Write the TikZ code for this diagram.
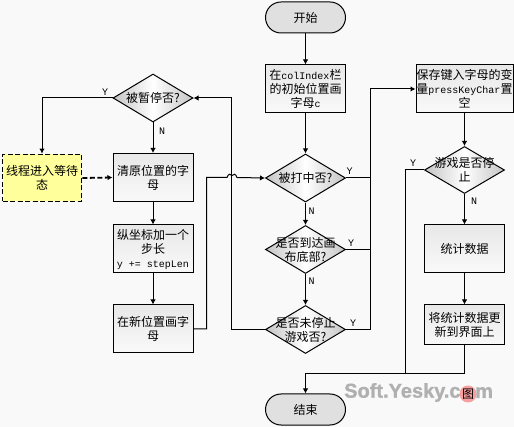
\documentclass[tikz,border=0pt]{standalone}
\usepackage{fontspec}
\setmainfont{Liberation Mono}
\newfontfamily\cjk{Noto Sans CJK SC}
\newfontfamily\wmfont[FakeBold=1.2]{Liberation Sans Bold}
\usetikzlibrary{shapes.geometric,arrows.meta}
\newcommand{\cn}[1]{{\cjk\fontsize{12}{14}\selectfont #1}}
\tikzset{
  conn/.style={draw=black,line width=1pt},
  arr/.style={conn,-{Latex[length=5pt,width=5.5pt]}},
  boxbase/.style={rectangle,draw=black,line width=1pt,minimum width=80pt,inner sep=0pt,align=center,font=\fontsize{10}{14}\selectfont},
  proc/.style={boxbase,top color=e5gray,bottom color=bggray},
  waitbox/.style={boxbase,draw=black,line width=1.8pt,dash pattern=on 5pt off 2.5pt,fill=waity,minimum width=79pt,minimum height=47pt},
  term/.style={rectangle,rounded corners=15.5pt,draw=black,line width=1pt,fill=termg,minimum width=80pt,minimum height=31pt,inner sep=0pt},
  dec/.style={diamond,draw=black,line width=1pt,aspect=1.67,inner sep=0pt,minimum width=80pt,minimum height=48pt,left color=decg,right color=decg,middle color=white},
  dectext/.style={align=center,inner sep=0pt,font=\fontsize{10}{14}\selectfont},
  yn/.style={inner sep=0pt,font=\fontsize{10}{12}\selectfont},
  wm/.style={inner sep=0pt,text=wmg,font=\wmfont\fontsize{20}{20}\selectfont}
}
\definecolor{e5gray}{HTML}{E8E8E8}
\definecolor{bggray}{HTML}{F9F9F9}
\definecolor{waity}{HTML}{FFFF9C}
\definecolor{termg}{HTML}{E0E0E0}
\definecolor{decg}{HTML}{C4C4C4}
\definecolor{wmg}{HTML}{B0B0B0}
\definecolor{wmred}{HTML}{F8A0A0}
\begin{document}
\begin{tikzpicture}[x=1pt,y=-1pt]
\useasboundingbox (0,0) rectangle (514,427);
\fill[bggray] (0,0) rectangle (514,427);
% left column
\node[dec] (pause) at (153,98) {};
\node[dectext] (pauset) at (pause.center) {\cn{被暂停否?}};
\node[waitbox] (wait) at (42,178) {\cn{线程进入等待}\\\cn{态}};
\node[proc,minimum height=48pt] (clear) at (153,177.5) {\cn{清原位置的字}\\\cn{母}};
\node[proc,minimum height=48pt] (incr) at (153,249) {\cn{纵坐标加一个}\\\cn{步长}\\y += stepLen};
\node[proc,minimum height=48pt] (newpos) at (153,329) {\cn{在新位置画字}\\\cn{母}};
% centre column
\node[term] (start) at (305.5,17.5) {\cn{开始}};
\node[proc,minimum height=48pt] (init) at (305.5,89) {\cn{在}colIndex\cn{栏}\\\cn{的初始位置画}\\\cn{字母}c};
\node[dec] (hit) at (305.5,178) {};
\node[dectext] (hitt) at (hit.center) {\cn{被打中否?}};
\node[dec] (bottom) at (305.5,249.5) {};
\node[dectext] (bottomt) at (bottom.center) {\cn{是否到达画}\\\cn{布底部?}};
\node[dec] (notstop) at (305.5,329.5) {};
\node[dectext] (notstopt) at (notstop.center) {\cn{是否未停止}\\\cn{游戏否?}};
\node[term] (end) at (305.5,409.5) {\cn{结束}};
% right column
\node[proc,minimum height=48pt,minimum width=97pt] (save) at (464.5,89) {\cn{保存键入字母的变}\\\cn{量}pressKeyChar\cn{置}\\\cn{空}};
\node[dec,minimum height=47pt] (stop) at (464.5,170) {};
\node[dectext] (stopt) at (stop.center) {\cn{游戏是否停}\\\cn{止}};
\node[proc,minimum height=48pt] (stats) at (464.5,249) {\cn{统计数据}};
\node[proc,minimum height=40pt] (update) at (464.5,325) {\cn{将统计数据更}\\\cn{新到界面上}};
% helper coordinates
\coordinate (rise) at (206.5,177.5);
\coordinate (bumpa) at (227,177.5);
\coordinate (bumpb) at (237,177.5);
\coordinate (loop) at (231.5,329.5);
\coordinate (spine) at (370,89);
\coordinate (exit) at (405,374);
\coordinate (merge) at (464.5,374);
\coordinate (mergeb) at (305.5,374);
% connectors
\draw[arr] (start) -- (init);
\draw[arr] (init) -- (hit);
\draw[arr] (hit) -- (bottom);
\draw[arr] (bottom) -- (notstop);
\draw[arr] (pause) -- (clear);
\draw[arr] (clear) -- (incr);
\draw[arr] (incr) -- (newpos);
\draw[arr] (pause.west) -| (wait.north);
\draw[arr,line width=1.8pt,dash pattern=on 5pt off 2.5pt] (wait.east) -- (clear.west);
\draw[arr] (newpos.east) -| (rise) -- (bumpa) .. controls (228.5,173.5) and (230.5,173.5) .. (232,175.5) .. controls (233.5,173.5) and (235.5,173.5) .. (bumpb) -- (hit.west);
\draw[arr] (notstop.west) -- (loop) -- (loop |- pause.east) -- (pause.east);
\draw[arr] (hit.east) -- (spine |- hit.east) -- (spine) -- (save.west);
\draw[conn] (bottom.east) -- (spine |- bottom.east);
\draw[conn] (notstop.east) -- (spine |- notstop.east) -- (spine |- hit.east);
\draw[arr] (save) -- (stop);
\draw[arr] (stop) -- (stats);
\draw[arr] (stats) -- (update);
\draw[conn] (stop.west) -- (exit |- stop.west) -- (exit);
\draw[arr] (update.south) -- (merge) -- (mergeb) -- (end.north);
% branch labels
\node[yn] (y1) at (105,92) {Y};
\node[yn] (n1) at (162,131.5) {N};
\node[yn] (y2) at (349.7,171.5) {Y};
\node[yn] (n2) at (311.7,211) {N};
\node[yn] (y3) at (351,243) {Y};
\node[yn] (n3) at (311.7,281.7) {N};
\node[yn] (y4) at (353,323) {Y};
\node[yn] (y5) at (413,163) {Y};
\node[yn] (n5) at (474,201.7) {N};
% watermark
\node[circle,fill=wmred,minimum size=17pt,inner sep=0pt] (wmb) at (468,394) {\cn{图}};
\node[wm,anchor=west] (wma) at (344,392.5) {Soft.Yesky.c};
\node[wm,anchor=west] (wmc) at (475,392.5) {m};
\end{tikzpicture}
\end{document}
